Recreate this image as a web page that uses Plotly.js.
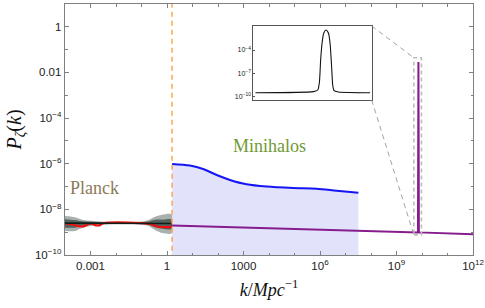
<!DOCTYPE html>
<html><head><meta charset="utf-8">
<script src="https://cdn.plot.ly/plotly-3.0.1.min.js"></script>
<style>html,body{margin:0;padding:0;background:#fff}#chart{width:485px;height:308px}</style>
</head><body><div id="chart"></div>
<script>
// ---- data ----
const planckK      = [1e-4, 2.45e-4, 4.7e-4, 1.15e-3, 3.7e-3, 8.7e-2, 0.178, 0.34, 0.69, 1.58];
const planckOutLo  = [1.12e-9, 1.12e-9, 1.51e-9, 1.9e-9, 2.19e-9, 2.19e-9, 1.9e-9, 1.26e-9, 9.1e-10, 9.1e-10];
const planckOutHi  = [5.1e-9, 4.5e-9, 3.55e-9, 3.16e-9, 2.88e-9, 2.88e-9, 3.3e-9, 4.7e-9, 5.9e-9, 5.9e-9];
const planckInLo   = [1.58e-9, 1.58e-9, 1.86e-9, 2.14e-9, 2.34e-9, 2.34e-9, 2.14e-9, 1.66e-9, 1.41e-9, 1.41e-9];
const planckInHi   = [3.7e-9, 3.4e-9, 3.0e-9, 2.88e-9, 2.69e-9, 2.69e-9, 2.95e-9, 3.55e-9, 3.55e-9, 3.55e-9];
const planckLineK  = [1e-4, 1.58];
const planckLineP  = [2.5e-9, 2.4e-9];
const redK = [1e-4, 2e-4, 3.5e-4, 5.6e-4, 1e-3, 1.6e-3, 2.2e-3, 3.2e-3, 0.1, 0.25, 0.4, 1.58];
const redP = [2.4e-9, 2.19e-9, 1.82e-9, 1.82e-9, 2.4e-9, 2.0e-9, 2.0e-9, 2.45e-9, 2.5e-9, 2.24e-9, 1.78e-9, 1.7e-9];
const miniK = [1.58, 7.9, 26, 89, 295, 1320, 8100, 8.9e4, 7.4e5, 4.5e6, 3.2e7];
const miniP = [9.8e-7, 8.3e-7, 5.9e-7, 3.2e-7, 1.95e-7, 1.26e-7, 1.0e-7, 8.7e-8, 8.1e-8, 6.6e-8, 5.4e-8];
const purpleK = [1.58, 6.95e9, 7.25e9, 7.55e9, 1e12];
const purpleP = [1.95e-9, 9.8e-10, 2.9e-2, 9.8e-10, 8.1e-10];
const insetK = [4.74e9, 6.72e9, 6.90e9, 6.97e9, 7.02e9, 7.08e9, 7.15e9, 7.25e9, 7.36e9, 7.43e9, 7.50e9, 7.55e9, 7.61e9, 7.81e9, 9.46e9];
const insetP = [3.2e-10, 4.4e-10, 7.2e-10, 8.5e-9, 5.2e-6, 7.4e-4, 1.4e-2, 3.8e-2, 1.4e-2, 7.4e-4, 7.2e-7, 3.2e-9, 5.9e-10, 4.0e-10, 3.2e-10];
const kCut = 1.58;            // orange dashed line
const zoomK = [4.8e9, 9.5e9]; // dashed zoom box
const zoomP = [7.6e-10, 4.4e-2];

const xTickVals = [1e-3, 1, 1e3, 1e6, 1e9, 1e12];
const xTickText = ['0.001', '1', '1000', '10<sup>6</sup>', '10<sup>9</sup>', '10<sup>12</sup>'];
const yTickVals = [1e-10, 1e-8, 1e-6, 1e-4, 1e-2, 1];
const yTickText = ['10<sup>−10</sup>', '10<sup>−8</sup>', '10<sup>−6</sup>', '10<sup>−4</sup>', '0.01', '1'];
const insetTickVals = [1e-10, 1e-7, 1e-4];
const insetTickText = ['10<sup>−10</sup>', '10<sup>−7</sup>', '10<sup>−4</sup>'];

// ---- layout constants ----
const xRange = [-4, 12], yRange = [-10, 1];
const insetX = [0.4615, 0.7517], insetY = [0.6175, 0.9124];
const insetXRange = [9.67, 9.98], insetYRange = [-10.43, -0.91];
const px = k => (Math.log10(k) - xRange[0]) / (xRange[1] - xRange[0]);
const py = p => (Math.log10(p) - yRange[0]) / (yRange[1] - yRange[0]);
const pw = (a, b) => { const r = []; for (let e = a; e <= b; e++) r.push(Math.pow(10, e)); return r; };

const traces = [
  {x: planckK.concat(planckK.slice().reverse()), y: planckOutLo.concat(planckOutHi.slice().reverse()),
   fill: 'toself', fillcolor: '#a9b0ad', line: {width: 0, shape: 'spline'}, mode: 'lines', hoverinfo: 'skip'},
  {x: planckK.concat(planckK.slice().reverse()), y: planckInLo.concat(planckInHi.slice().reverse()),
   fill: 'toself', fillcolor: '#55625d', line: {width: 0, shape: 'spline'}, mode: 'lines', hoverinfo: 'skip'},
  {x: redK, y: redP, mode: 'lines', line: {color: '#ee1010', width: 2.2, shape: 'spline'}},
  {x: planckLineK, y: planckLineP, mode: 'lines', line: {color: '#0f1f18', width: 1.6}},
  {x: [miniK[0], miniK[miniK.length - 1]], y: [1e-11, 1e-11], mode: 'lines', line: {width: 0}, hoverinfo: 'skip'},
  {x: miniK, y: miniP, mode: 'lines', fill: 'tonexty', fillcolor: '#e2e2fb',
   line: {color: '#1515f5', width: 2, shape: 'spline', smoothing: 0.8}},
  {x: [kCut, kCut], y: [1e-11, 1e2], mode: 'lines', line: {color: '#ffa64d', width: 1.5, dash: '5px,4px'}},
  {x: purpleK, y: purpleP, mode: 'lines', line: {color: '#861b8c', width: 2}},
  {x: insetK, y: insetP, xaxis: 'x2', yaxis: 'y2', mode: 'lines',
   line: {color: '#111', width: 1.1, shape: 'spline', smoothing: 0.6}}
];

const axisBase = {type: 'log', showgrid: false, zeroline: false, showline: true, linecolor: '#808080',
  linewidth: 1.3, mirror: 'allticks', ticks: 'inside', ticklen: 4, tickcolor: '#808080', tickwidth: 1,
  tickfont: {family: 'Liberation Sans, Arial, sans-serif', size: 11.5, color: '#222'}};

const layout = {
  width: 485, height: 308, margin: {l: 65, r: 12, t: 4, b: 53},
  paper_bgcolor: '#fff', plot_bgcolor: '#fff', showlegend: false,
  xaxis: Object.assign({}, axisBase, {range: xRange, tickmode: 'array', tickvals: xTickVals, ticktext: xTickText,
    minor: {tickvals: pw(-4, 12), ticklen: 2.5, ticks: 'inside', tickcolor: '#808080'},
    title: {text: '<i>k</i>/<i>Mpc</i><sup>−1</sup>', standoff: 12,
      font: {family: 'Liberation Serif, Times New Roman, serif', size: 18, color: '#111'}}}),
  yaxis: Object.assign({}, axisBase, {range: yRange, tickmode: 'array', tickvals: yTickVals, ticktext: yTickText,
    minor: {tickvals: pw(-10, 1), ticklen: 2.5, ticks: 'inside', tickcolor: '#808080'},
    title: {text: '<i>P</i><sub><i>ζ</i></sub>(<i>k</i>)', standoff: 8,
      font: {family: 'Liberation Serif, Times New Roman, serif', size: 20, color: '#111'}}}),
  xaxis2: {type: 'log', domain: insetX, anchor: 'y2', range: insetXRange, showgrid: false, zeroline: false,
    showline: true, linecolor: '#555', linewidth: 1, mirror: true, showticklabels: false, ticks: ''},
  yaxis2: {type: 'log', domain: insetY, anchor: 'x2', range: insetYRange, showgrid: false, zeroline: false,
    showline: true, linecolor: '#555', linewidth: 1, mirror: true, tickmode: 'array',
    tickvals: insetTickVals, ticktext: insetTickText, ticks: 'inside', ticklen: 2, tickcolor: '#555',
    tickfont: {family: 'Liberation Sans, Arial, sans-serif', size: 7, color: '#222'}},
  shapes: [
    {type: 'rect', xref: 'paper', yref: 'paper', x0: px(zoomK[0]), x1: px(zoomK[1]), y0: py(zoomP[0]), y1: py(zoomP[1]),
     line: {color: '#bdbdbd', width: 1.6, dash: '4px,3px'}},
    {type: 'line', xref: 'paper', yref: 'paper', x0: insetX[1], y0: insetY[1], x1: px(zoomK[0]), y1: py(zoomP[1]),
     line: {color: '#8a8a8a', width: 0.8, dash: '5px,4px'}},
    {type: 'line', xref: 'paper', yref: 'paper', x0: insetX[1], y0: insetY[0], x1: px(zoomK[0]), y1: py(zoomP[0]),
     line: {color: '#8a8a8a', width: 0.8, dash: '5px,4px'}}
  ],
  annotations: [
    {text: 'Planck', xref: 'paper', yref: 'paper', x: 0.0735, y: 0.267, xanchor: 'center', yanchor: 'middle',
     showarrow: false, font: {family: 'Liberation Serif, Times New Roman, serif', size: 18, color: '#8c7a5a'}},
    {text: 'Minihalos', xref: 'paper', yref: 'paper', x: 0.502, y: 0.434, xanchor: 'center', yanchor: 'middle',
     showarrow: false, font: {family: 'Liberation Serif, Times New Roman, serif', size: 18, color: '#6f9a34'}}
  ]
};
Plotly.newPlot('chart', traces, layout, {displayModeBar: false, staticPlot: true});
</script></body></html>
